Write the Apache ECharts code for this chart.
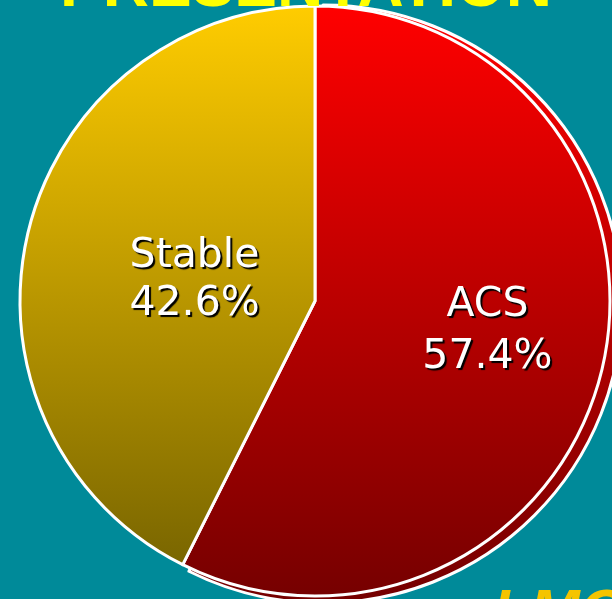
<!DOCTYPE html>
<html lang="en">
<head>
    <meta charset="UTF-8"/>
    <script type="text/javascript" src="https://cdn.jsdelivr.net/npm/echarts@6/dist/echarts.min.js"></script>
    <title>Presentation</title>
    <style>
        html, body {margin: 0; padding: 0; background: #008a99;}
        #main {width: 612px; height: 599px;}
    </style>
</head>
<body>
<div id="main"></div>
<script type="text/javascript">
    // categories and shares (%)
    var categories = ['ACS', 'Stable'];
    var shares = [57.4, 42.6];

    // vertical gradients, top -> bottom of the pie
    var gradTop = ['#ff0000', '#ffcc00'];
    var gradBottom = ['#760000', '#726000'];

    function grad(i) {
        return {
            type: 'linear', x: 0, y: 7, x2: 0, y2: 596, global: true,
            colorStops: [{offset: 0, color: gradTop[i]}, {offset: 1, color: gradBottom[i]}]
        };
    }

    var labelOffsets = [[26, -4], [26, 14]];
    var lineHeights = [52, 48];

    var mainData = [];
    var shadowData = [];
    for (var i = 0; i < categories.length; i++) {
        mainData.push({
            name: categories[i],
            value: shares[i],
            itemStyle: {color: grad(i)},
            label: {offset: labelOffsets[i], lineHeight: lineHeights[i]}
        });
        // only the ACS slice gets the raised copy behind it
        shadowData.push({
            name: categories[i],
            value: shares[i],
            itemStyle: i === 0 ? {color: grad(i), borderColor: '#fff', borderWidth: 3}
                               : {color: 'transparent', borderWidth: 0}
        });
    }

    var myChart = echarts.init(document.getElementById('main'));
    var option = {
        backgroundColor: '#008a99',
        animation: false,
        graphic: [
            {
                type: 'text', left: 'center', top: -44, z: 10,
                style: {
                    text: 'PRESENTATION', fill: '#ffff00',
                    font: 'bold 64px "Liberation Sans", Arial, sans-serif',
                    shadowColor: '#000', shadowOffsetX: 3, shadowOffsetY: 3, shadowBlur: 0
                }
            },
            {
                type: 'text', left: 493, top: 584, z: 10,
                style: {
                    text: 'LMCA', fill: '#f5c400',
                    font: 'italic bold 60px "Liberation Sans", Arial, sans-serif',
                    shadowColor: '#000', shadowOffsetX: 3, shadowOffsetY: 3, shadowBlur: 0
                }
            }
        ],
        series: [
            {
                type: 'pie',
                silent: true,
                z: 1,
                center: [323, 304],
                radius: 299,
                startAngle: 90,
                label: {show: false},
                labelLine: {show: false},
                data: shadowData
            },
            {
                type: 'pie',
                silent: true,
                z: 2,
                center: [315, 301],
                radius: 295,
                startAngle: 90,
                itemStyle: {borderColor: '#fff', borderWidth: 3},
                label: {
                    show: true,
                    position: 'inside',
                    formatter: '{b}\n{c}%',
                    color: '#fff',
                    fontFamily: '"DejaVu Sans", Verdana, sans-serif',
                    fontSize: 41,
                    textShadowColor: '#000',
                    textShadowOffsetX: 2,
                    textShadowOffsetY: 2,
                    textShadowBlur: 1
                },
                labelLine: {show: false},
                data: mainData
            }
        ]
    };
    myChart.setOption(option);
</script>
</body>
</html>
